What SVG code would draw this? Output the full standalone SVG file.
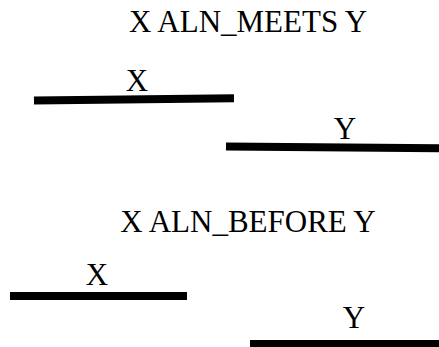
<svg xmlns="http://www.w3.org/2000/svg" width="439" height="347" viewBox="0 0 439 347">
<style>
.bar{stroke:#000;stroke-width:8;stroke-linecap:butt;fill:none}
</style>
<rect width="439" height="347" fill="#fff"/>
<g font-family="Liberation Serif, Times New Roman, Times, serif" font-size="31" fill="#000" text-anchor="middle">
<g id="title-meets"><text x="248" y="32">X ALN_MEETS Y</text></g>
<g id="meets-x"><text x="137" y="91">X</text></g>
<g id="meets-y"><text x="345" y="139">Y</text></g>
<g id="title-before"><text x="248" y="232">X ALN_BEFORE Y</text></g>
<g id="before-x"><text x="97" y="285">X</text></g>
<g id="before-y"><text x="354" y="328">Y</text></g>
</g>
<g id="connectors">
<line class="bar" x1="34" y1="100.5" x2="234" y2="98.3"/>
<line class="bar" x1="226" y1="146.5" x2="439" y2="148.3"/>
<line class="bar" x1="10" y1="296" x2="187" y2="296"/>
<line class="bar" x1="250" y1="344" x2="439" y2="344"/>
</g>
</svg>
